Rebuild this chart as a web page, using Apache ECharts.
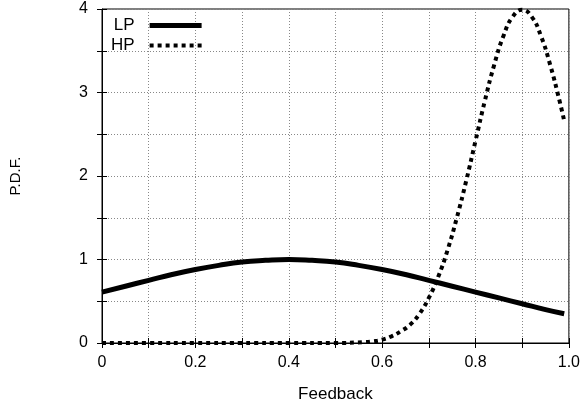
<!DOCTYPE html>
<html>
<head>
<meta charset="utf-8">
<script src="https://cdn.jsdelivr.net/npm/echarts@6/dist/echarts.min.js"></script>
<style>
  html, body { margin: 0; padding: 0; background: #fff; }
  #main { width: 583px; height: 410px; }
</style>
</head>
<body>
<div id="main"></div>
<script>
// values
const lpX = [0, 0.05, 0.1, 0.15, 0.2, 0.25, 0.3, 0.35, 0.4, 0.45, 0.5, 0.55, 0.6, 0.65, 0.7, 0.75, 0.8, 0.85, 0.9, 0.95, 0.99];
const lpY = [0.61, 0.68, 0.75, 0.82, 0.88, 0.93, 0.97, 0.99, 1.0, 0.99, 0.97, 0.93, 0.88, 0.82, 0.75, 0.68, 0.61, 0.54, 0.47, 0.40, 0.35];

const hpX = [0, 0.1, 0.2, 0.3, 0.4, 0.5, 0.56, 0.58, 0.6, 0.62, 0.64, 0.66, 0.68, 0.7, 0.72, 0.74, 0.76, 0.78, 0.8, 0.82, 0.84, 0.86, 0.88, 0.9, 0.92, 0.94, 0.96, 0.98, 0.99];
const hpY = [0, 0, 0, 0, 0, 0, 0.01, 0.02, 0.04, 0.08, 0.14, 0.22, 0.35, 0.54, 0.79, 1.11, 1.50, 1.94, 2.42, 2.90, 3.33, 3.68, 3.91, 3.99, 3.91, 3.68, 3.33, 2.90, 2.66];

const xTicks = [0, 0.2, 0.4, 0.6, 0.8, 1.0];
const yTicks = [0, 1, 2, 3, 4];

const font = 'Liberation Sans';
const gridLine = { show: true, lineStyle: { color: '#888', type: [1, 2], width: 1 } };
const tickIn = { show: true, inside: true, length: 5, lineStyle: { color: '#000' } };
const minorIn = { show: true, splitNumber: 2, length: 5, lineStyle: { color: '#000' } };

const chart = echarts.init(document.getElementById('main'));

function pairs(xs, ys) {
  return xs.map(function (x, i) { return [x, ys[i]]; });
}

const option = {
  backgroundColor: '#fff',
  animation: false,
  textStyle: { fontFamily: font },
  grid: {
    left: 100, right: 14, top: 9, bottom: 67,
    show: true, borderColor: '#000', borderWidth: 1
  },
  legend: {
    orient: 'vertical',
    left: 106,
    top: 12,
    align: 'right',
    itemWidth: 52,
    itemHeight: 14,
    itemGap: 3,
    itemStyle: { opacity: 0 },
    textStyle: { fontFamily: font, fontSize: 17, color: '#000', padding: [0, 10, 0, 0] },
    data: [
      { name: 'LP', lineStyle: { width: 5, color: '#000' } },
      { name: 'HP', lineStyle: { width: 4, color: '#000', type: [4, 4] } }
    ]
  },
  xAxis: [{
    type: 'value',
    min: 0, max: 1, interval: 0.2,
    name: 'Feedback',
    nameLocation: 'middle',
    nameGap: 43,
    nameTextStyle: { fontSize: 17, color: '#000', fontFamily: font },
    axisLine: { show: true, lineStyle: { color: '#000' } },
    axisTick: tickIn,
    minorTick: minorIn,
    splitLine: gridLine,
    minorSplitLine: gridLine,
    axisLabel: {
      margin: 12, fontSize: 16, color: '#000', fontFamily: font,
      formatter: function (v) { return xTicks.indexOf(v) < 0 ? '' : (v === 0 ? '0' : v.toFixed(1)); }
    }
  }, {
    type: 'value', position: 'top',
    min: 0, max: 1, interval: 0.2,
    axisLine: { show: false },
    axisTick: tickIn,
    minorTick: minorIn,
    splitLine: { show: false },
    axisLabel: { show: false }
  }],
  yAxis: [{
    type: 'value',
    min: 0, max: 4, interval: 1,
    name: 'P.D.F.',
    nameLocation: 'middle',
    nameGap: 79,
    nameTextStyle: { fontSize: 15, color: '#000', fontFamily: font },
    axisLine: { show: true, lineStyle: { color: '#000' } },
    axisTick: tickIn,
    minorTick: minorIn,
    splitLine: gridLine,
    minorSplitLine: gridLine,
    axisLabel: {
      margin: 14, fontSize: 16, color: '#000', fontFamily: font,
      formatter: function (v) { return yTicks.indexOf(v) >= 0 ? String(v) : ''; }
    }
  }, {
    type: 'value', position: 'right',
    min: 0, max: 4, interval: 1,
    axisLine: { show: false },
    axisTick: tickIn,
    minorTick: minorIn,
    splitLine: { show: false },
    axisLabel: { show: false }
  }],
  series: [{
    name: 'LP',
    type: 'line',
    smooth: true,
    symbol: 'none',
    clip: false,
    color: '#000',
    lineStyle: { color: '#000', width: 5 },
    data: pairs(lpX, lpY)
  }, {
    name: 'HP',
    type: 'line',
    smooth: true,
    symbol: 'none',
    clip: false,
    color: '#000',
    lineStyle: { color: '#000', width: 4, type: [4, 4] },
    data: pairs(hpX, hpY)
  }]
};

chart.setOption(option);
</script>
</body>
</html>
